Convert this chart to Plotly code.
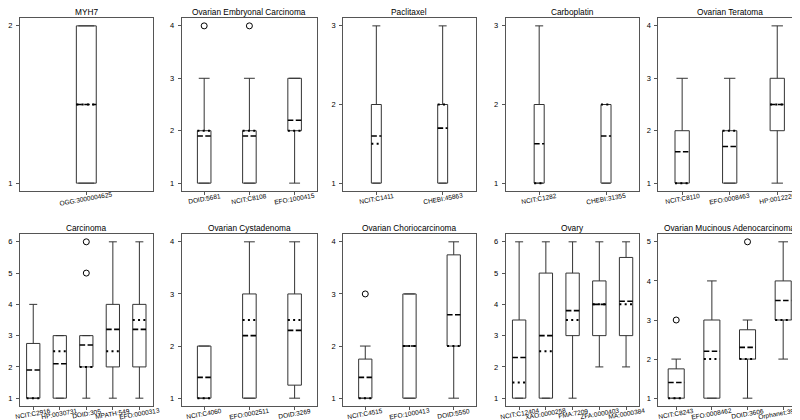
import plotly.graph_objects as go
import math

# ---------------- data ----------------
titles = ["MYH7", "Ovarian Embryonal Carcinoma", "Paclitaxel", "Carboplatin", "Ovarian Teratoma",
          "Carcinoma", "Ovarian Cystadenoma", "Ovarian Choriocarcinoma", "Ovary",
          "Ovarian Mucinous Adenocarcinoma"]

labels = [
    ["OGG:3000004625"],
    ["DOID:5681", "NCIT:C8108", "EFO:1000415"],
    ["NCIT:C1411", "CHEBI:45863"],
    ["NCIT:C1282", "CHEBI:31355"],
    ["NCIT:C8110", "EFO:0008463", "HP:0012226"],
    ["NCIT:C2916", "HP:0030731", "DOID:305", "MPATH:549", "EFO:0000313"],
    ["NCIT:C4060", "EFO:0002511", "DOID:3269"],
    ["NCIT:C4515", "EFO:1000413", "DOID:5550"],
    ["NCIT:C12404", "XAO:0000258", "FMA:7209", "ZFA:0000403", "MA:0000384"],
    ["NCIT:C8243", "EFO:0008462", "DOID:3606", "Orphanet:398961"],
]

q1 = [[1], [1, 1, 2], [1, 1], [1, 1], [1, 1, 2],
      [1, 1, 2, 2, 2], [1, 1, 1.25], [1, 1, 2], [1, 1, 3, 3, 3], [1, 1, 2, 3]]
q3 = [[2], [2, 2, 3], [2, 2], [2, 2], [2, 2, 3],
      [2.75, 3, 3, 4, 4], [2, 3, 3], [1.75, 3, 3.75], [3.5, 5, 5, 4.75, 5.5], [1.75, 3, 2.75, 4]]
medians = [[1.5], [2, 2, 2], [1.5, 2], [1, 2], [1, 2, 2.5],
           [1, 2.5, 2, 2.5, 3.5], [1, 2.5, 2.5], [1, 2, 2], [1.5, 2.5, 3.5, 4, 4], [1, 2, 2, 3]]
means = [[1.5], [1.9, 1.9, 2.2], [1.6, 1.7], [1.5, 1.6], [1.6, 1.7, 2.5],
         [1.9, 2.1, 2.7, 3.2, 3.2], [1.4, 2.2, 2.3], [1.4, 2.0, 2.6], [2.3, 3.0, 3.8, 4.0, 4.1],
         [1.4, 2.2, 2.3, 3.5]]
whislo = [[1], [1, 1, 1], [1, 1], [1, 1], [1, 1, 1],
          [1, 1, 1, 1, 1], [1, 1, 1], [1, 1, 1], [1, 1, 1, 2, 2], [1, 1, 1, 2]]
whishi = [[2], [3, 3, 3], [3, 3], [3, 2], [3, 3, 4],
          [4, 3, 3, 6, 6], [2, 4, 4], [2, 3, 4], [6, 6, 6, 6, 6], [2, 4, 3, 5]]
outliers = [[[]], [[4], [4], []], [[], []], [[], []], [[], [], []],
            [[], [], [5, 6], [], []], [[], [], []], [[3], [], []], [[], [], [], [], []],
            [[3], [], [5], []]]

# ---------------- layout geometry ----------------
W, H = 800, 420
col_px = [(10, 143), (172, 308), (334, 467), (497, 631), (650, 793)]
row_px = [(10, 183), (226, 398)]
FONT = "Liberation Sans, Arial, sans-serif"
EDGE = "#333333"
FRAME = "#555555"

fig = go.Figure()
annotations = []
layout_axes = {}

for k in range(len(titles)):
    r, c = divmod(k, 5)
    sfx = "" if k == 0 else str(k + 1)
    xref, yref = "x" + sfx, "y" + sfx
    n = len(labels[k])
    pos = list(range(1, n + 1))
    w = min(max(0.15 * (n - 1), 0.15), 0.5)
    cw = w * (0.8 if n <= 3 else 0.6)

    bx, by, wx, wy, cx, cy, mx, my, ax_, ay_ = [], [], [], [], [], [], [], [], [], []
    ox, oy = [], []
    for i, p in enumerate(pos):
        a, b = p - w / 2, p + w / 2
        bx += [a, b, b, a, a, None]
        by += [q1[k][i], q1[k][i], q3[k][i], q3[k][i], q1[k][i], None]
        wx += [p, p, None, p, p, None]
        wy += [q1[k][i], whislo[k][i], None, q3[k][i], whishi[k][i], None]
        cx += [p - cw / 2, p + cw / 2, None, p - cw / 2, p + cw / 2, None]
        cy += [whislo[k][i], whislo[k][i], None, whishi[k][i], whishi[k][i], None]
        mx += [a, b, None]
        my += [medians[k][i], medians[k][i], None]
        ax_ += [a, b, None]
        ay_ += [means[k][i], means[k][i], None]
        for o in outliers[k][i]:
            ox.append(p)
            oy.append(o)

    common = dict(xaxis=xref, yaxis=yref, hoverinfo="skip", showlegend=False)
    fig.add_trace(go.Scatter(x=wx, y=wy, mode="lines", line=dict(color=EDGE, width=1), **common))
    fig.add_trace(go.Scatter(x=cx, y=cy, mode="lines", line=dict(color=EDGE, width=1), **common))
    fig.add_trace(go.Scatter(x=bx, y=by, mode="lines", line=dict(color=EDGE, width=1), **common))
    fig.add_trace(go.Scatter(x=ax_, y=ay_, mode="lines",
                             line=dict(color="black", width=1.6, dash="5.5px,2.4px"), **common))
    fig.add_trace(go.Scatter(x=mx, y=my, mode="lines",
                             line=dict(color="black", width=2, dash="2px,3.3px"), **common))
    if ox:
        fig.add_trace(go.Scatter(x=ox, y=oy, mode="markers",
                                 marker=dict(symbol="circle-open", size=6, color="black",
                                             line=dict(width=1)), **common))

    allv = whislo[k] + whishi[k] + [o for lst in outliers[k] for o in lst]
    lo, hi = min(allv), max(allv)
    span = hi - lo
    yr = [lo - 0.05 * span, hi + 0.05 * span]
    yt = list(range(math.ceil(lo), math.floor(hi) + 1))

    l, rr = col_px[c]
    t, bt = row_px[r]
    layout_axes["xaxis" + sfx] = dict(
        domain=[l / W, rr / W], range=[0.5, n + 0.5], tickvals=pos, showticklabels=False,
        ticks="outside", ticklen=3, tickcolor=FRAME, showline=True, mirror=True,
        linecolor=FRAME, linewidth=1, showgrid=False, zeroline=False, anchor=yref, fixedrange=True)
    layout_axes["yaxis" + sfx] = dict(
        domain=[1 - bt / H, 1 - t / H], range=yr, tickvals=yt, ticktext=[str(v) for v in yt],
        ticks="outside", ticklen=3, tickcolor=FRAME, tickfont=dict(size=7.5, color="black"),
        showline=True, mirror=True, linecolor=FRAME, linewidth=1, showgrid=False,
        zeroline=False, anchor=xref, fixedrange=True, ticklabelstandoff=2)

    annotations.append(dict(text=titles[k], x=0.5, xref=xref + " domain", y=1,
                            yref=yref + " domain", yanchor="middle", xanchor="center",
                            yshift=6.5, showarrow=False, font=dict(size=8.3, color="black")))
    for i, p in enumerate(pos):
        annotations.append(dict(text=labels[k][i], x=p, xref=xref, y=0, yref=yref + " domain",
                                xanchor="center", yanchor="middle", yshift=-7, textangle=-10,
                                showarrow=False, font=dict(size=6.5, color="black")))

fig.update_layout(width=W, height=H, margin=dict(l=0, r=0, t=0, b=0),
                  paper_bgcolor="white", plot_bgcolor="white",
                  font=dict(family=FONT, color="black"), showlegend=False,
                  annotations=annotations, **layout_axes)

fig.write_html("out.html")
